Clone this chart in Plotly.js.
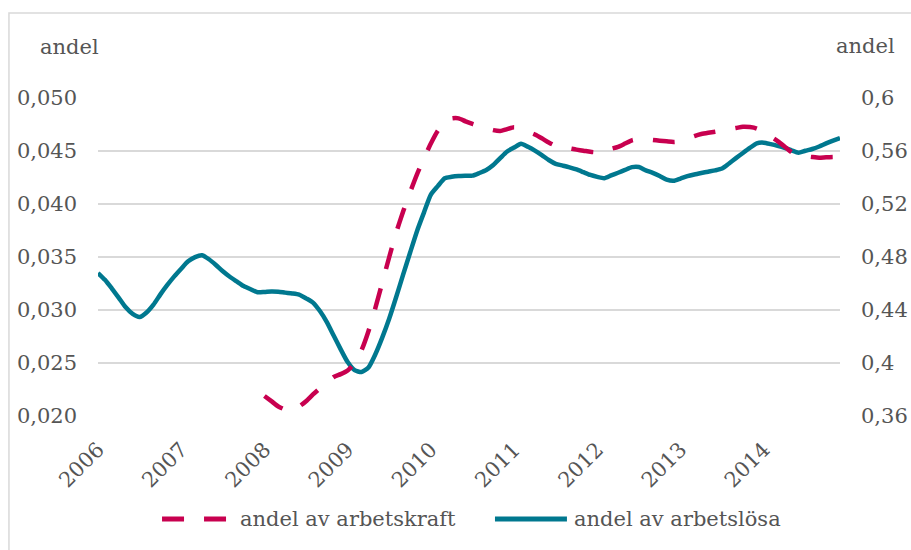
<!DOCTYPE html>
<html>
<head>
<meta charset="utf-8">
<script src="https://cdn.plot.ly/plotly-3.0.1.min.js"></script>
<style>html,body{margin:0;padding:0;background:#fff;}#chart{width:911px;height:550px;}</style>
</head>
<body>
<div id="chart"></div>
<script>
// Year labels (one tick per January)
const years = [2006, 2007, 2008, 2009, 2010, 2011, 2012, 2013, 2014];
const monthsPerYear = ['01','02','03','04','05','06','07','08','09','10','11','12'];

// Share of unemployed (right axis), monthly Jan 2006 – Dec 2014
const andelArbetslosa = [
  0.4679,0.4628,0.4562,0.4492,0.4420,0.4370,0.4347,0.4381,0.4440,0.4518,0.4589,0.4654,
  0.4712,0.4767,0.4799,0.4813,0.4783,0.4740,0.4692,0.4651,0.4616,0.4581,0.4557,0.4534,
  0.4536,0.4540,0.4538,0.4531,0.4525,0.4516,0.4488,0.4456,0.4392,0.4309,0.4205,0.4103,
  0.4007,0.3946,0.3932,0.3966,0.4066,0.4193,0.4336,0.4498,0.4667,0.4832,0.4995,0.5135,
  0.5271,0.5335,0.5394,0.5405,0.5411,0.5413,0.5414,0.5434,0.5457,0.5494,0.5546,0.5596,
  0.5626,0.5655,0.5632,0.5603,0.5569,0.5532,0.5503,0.5490,0.5477,0.5461,0.5440,0.5419,
  0.5405,0.5395,0.5416,0.5436,0.5457,0.5478,0.5479,0.5454,0.5435,0.5411,0.5384,0.5375,
  0.5392,0.5410,0.5423,0.5434,0.5444,0.5454,0.5468,0.5506,0.5546,0.5585,0.5623,0.5658,
  0.5663,0.5652,0.5639,0.5624,0.5605,0.5587,0.5602,0.5615,0.5634,0.5657,0.5678,0.5698
];

// Share of labour force (left axis), monthly Jan 2008 – Dec 2014
const andelArbetskraft = [
  0.02189,0.02140,0.02090,0.02061,0.02061,0.02090,0.02139,0.02203,0.02261,0.02314,0.02368,0.02395,
  0.02430,0.02500,0.02620,0.02800,0.03020,0.03260,0.03500,0.03730,0.03930,0.04110,0.04280,0.04430,
  0.04570,0.04690,0.04769,0.04807,0.04808,0.04780,0.04755,0.04733,0.04715,0.04697,0.04689,0.04707,
  0.04725,0.04710,0.04683,0.04656,0.04620,0.04580,0.04548,0.04537,0.04525,0.04513,0.04503,0.04492,
  0.04488,0.04505,0.04521,0.04539,0.04570,0.04601,0.04613,0.04611,0.04604,0.04597,0.04591,0.04585,
  0.04592,0.04616,0.04641,0.04660,0.04672,0.04682,0.04693,0.04706,0.04717,0.04729,0.04726,0.04712,
  0.04677,0.04636,0.04594,0.04543,0.04489,0.04458,0.04451,0.04443,0.04437,0.04441,0.04443,0.04447
];
const arbetskraftStartYear = 2008;

const leftTickVals = [0.020, 0.025, 0.030, 0.035, 0.040, 0.045, 0.050];
const leftTickText = ['0,020','0,025','0,030','0,035','0,040','0,045','0,050'];
const rightTickVals = [0.36, 0.40, 0.44, 0.48, 0.52, 0.56, 0.60];
const rightTickText = ['0,36','0,4','0,44','0,48','0,52','0,56','0,6'];

const seriesNames = ['andel av arbetskraft', 'andel av arbetslösa'];
const axisTitle = 'andel';

// category labels
const months = [];
years.forEach(y => monthsPerYear.forEach(m => months.push(y + '-' + m)));
const redMonths = months.slice(months.indexOf(arbetskraftStartYear + '-01'));
const yearTickVals = years.map(y => y + '-01');
const yearTickText = years.map(String);

const FONT = 'DejaVu Serif, serif';
const GREY = '#555555';
const BLUE = '#00788f';
const RED = '#c8004f';

const traces = [
  {
    x: months, y: andelArbetslosa, name: seriesNames[1],
    type: 'scatter', mode: 'lines', yaxis: 'y', showlegend: false,
    line: {color: BLUE, width: 4.5, shape: 'spline', smoothing: 0.6},
    hoverinfo: 'skip'
  },
  {
    x: redMonths, y: andelArbetskraft, name: seriesNames[0],
    type: 'scatter', mode: 'lines', yaxis: 'y2', showlegend: false,
    line: {color: RED, width: 4.5, dash: '22px,20px', shape: 'spline', smoothing: 0.6},
    hoverinfo: 'skip'
  }
];

// legend geometry in paper coordinates (plot area based)
const legY = -0.324;
const layout = {
  width: 911, height: 550,
  margin: {l: 98, r: 71, t: 98, b: 134},
  paper_bgcolor: '#ffffff', plot_bgcolor: '#ffffff',
  font: {family: FONT, size: 21, color: GREY},
  showlegend: false,
  xaxis: {
    type: 'category', categoryorder: 'array', categoryarray: months,
    range: [0, months.length - 1],
    tickmode: 'array', tickvals: yearTickVals, ticktext: yearTickText,
    tickangle: -45, showgrid: false, zeroline: false, showline: false,
    ticks: '', ticklabelstandoff: 16,
    tickfont: {family: FONT, size: 21, color: GREY}
  },
  yaxis: {
    side: 'right', range: [0.36, 0.60],
    tickmode: 'array', tickvals: rightTickVals, ticktext: rightTickText,
    showgrid: true, gridcolor: '#d9d9d9', gridwidth: 1.5,
    zeroline: false, showline: false, ticks: '', ticklabelstandoff: 20,
    tickfont: {family: FONT, size: 21, color: GREY}
  },
  yaxis2: {
    side: 'left', overlaying: 'y', range: [0.020, 0.050],
    tickmode: 'array', tickvals: leftTickVals, ticktext: leftTickText,
    showgrid: false, zeroline: false, showline: false, ticks: '', ticklabelstandoff: 20,
    tickfont: {family: FONT, size: 21, color: GREY}
  },
  annotations: [
    {text: axisTitle, xref: 'paper', yref: 'paper', x: -0.038, y: 1.16,
     xanchor: 'center', yanchor: 'middle', showarrow: false,
     font: {family: FONT, size: 21, color: GREY}},
    {text: axisTitle, xref: 'paper', yref: 'paper', x: 1.034, y: 1.165,
     xanchor: 'center', yanchor: 'middle', showarrow: false,
     font: {family: FONT, size: 21, color: GREY}},
    {text: seriesNames[0], xref: 'paper', yref: 'paper', x: 0.1887, y: legY,
     xanchor: 'left', yanchor: 'middle', showarrow: false,
     font: {family: FONT, size: 21, color: GREY}},
    {text: seriesNames[1], xref: 'paper', yref: 'paper', x: 0.6388, y: legY,
     xanchor: 'left', yanchor: 'middle', showarrow: false,
     font: {family: FONT, size: 21, color: GREY}}
  ],
  shapes: [
    {type: 'rect', xref: 'paper', yref: 'paper', x0: -0.12, x1: 1.2, y0: -0.6, y1: 1.267,
     line: {color: '#d9d9d9', width: 1.5}, fillcolor: 'rgba(0,0,0,0)', layer: 'below'},
    {type: 'line', xref: 'paper', yref: 'paper', x0: 0.0863, x1: 0.1752, y0: legY, y1: legY,
     line: {color: RED, width: 5, dash: '22px,20px'}},
    {type: 'line', xref: 'paper', yref: 'paper', x0: 0.535, x1: 0.632, y0: legY, y1: legY,
     line: {color: BLUE, width: 5}}
  ]
};

Plotly.newPlot('chart', traces, layout, {staticPlot: true, displayModeBar: false});
</script>
</body>
</html>
